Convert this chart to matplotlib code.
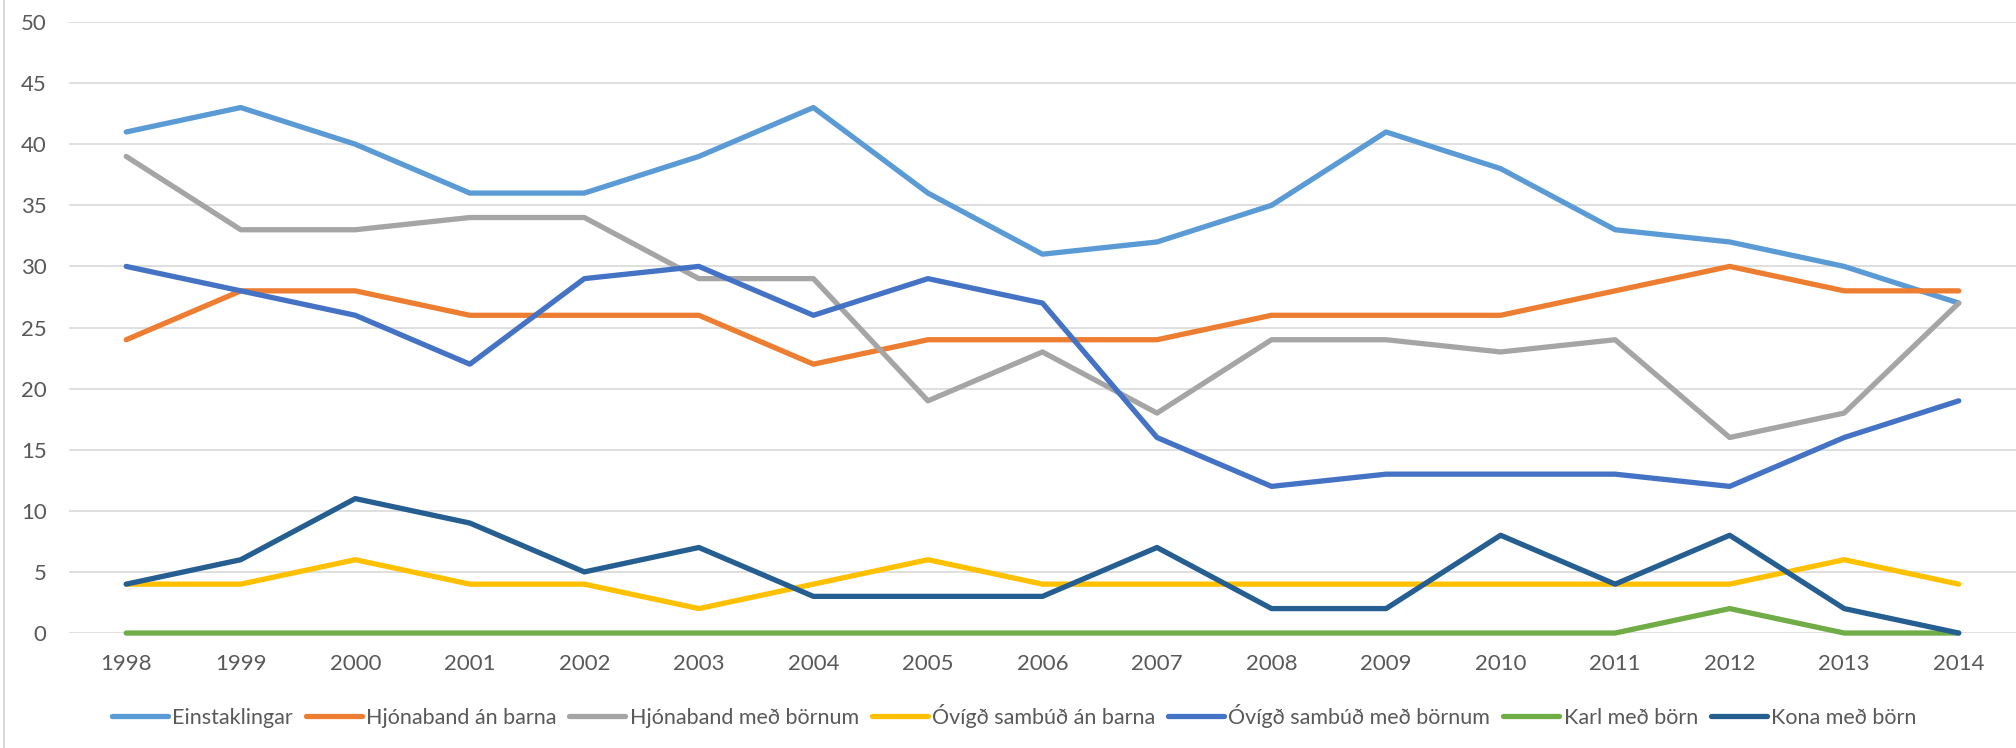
import matplotlib
matplotlib.use("Agg")
import matplotlib.pyplot as plt
from matplotlib.lines import Line2D

years = [str(y) for y in range(1998, 2015)]

einstaklingar = [41, 43, 40, 36, 36, 39, 43, 36, 31, 32, 35, 41, 38, 33, 32, 30, 27]
hjon_an_barna = [24, 28, 28, 26, 26, 26, 22, 24, 24, 24, 26, 26, 26, 28, 30, 28, 28]
hjon_med_bornum = [39, 33, 33, 34, 34, 29, 29, 19, 23, 18, 24, 24, 23, 24, 16, 18, 27]
ovigd_an_barna = [4, 4, 6, 4, 4, 2, 4, 6, 4, 4, 4, 4, 4, 4, 4, 6, 4]
ovigd_med_bornum = [30, 28, 26, 22, 29, 30, 26, 29, 27, 16, 12, 13, 13, 13, 12, 16, 19]
karl_med_born = [0, 0, 0, 0, 0, 0, 0, 0, 0, 0, 0, 0, 0, 0, 2, 0, 0]
kona_med_born = [4, 6, 11, 9, 5, 7, 3, 3, 3, 7, 2, 2, 8, 4, 8, 2, 0]

series = [
    ("Einstaklingar", einstaklingar, "#5B9BD5"),
    ("Hjónaband án barna", hjon_an_barna, "#ED7D31"),
    ("Hjónaband með börnum", hjon_med_bornum, "#A5A5A5"),
    ("Óvígð sambúð án barna", ovigd_an_barna, "#FFC000"),
    ("Óvígð sambúð með börnum", ovigd_med_bornum, "#4472C4"),
    ("Karl með börn", karl_med_born, "#70AD47"),
    ("Kona með börn", kona_med_born, "#255E91"),
]

plt.rcParams["font.family"] = ["Lato", "DejaVu Sans"]
text_color = "#595959"

fig = plt.figure(figsize=(20.16, 7.48), dpi=100)
ax = fig.add_axes([0.0342, 0.1537, 0.9658, 0.8169])

x = list(range(len(years)))
for label, values, color in series:
    ax.plot(x, values, color=color, lw=3.8, label=label, clip_on=False,
            solid_capstyle="round", solid_joinstyle="round")

ax.set_xlim(-0.5, len(years) - 0.5)
ax.set_ylim(0, 50)
ax.set_yticks(range(0, 51, 5))
ax.set_xticks(x)
ax.set_xticklabels(years)

ax.grid(axis="y", color="#d9d9d9", lw=1.2)
ax.set_axisbelow(True)
for s in ax.spines.values():
    s.set_visible(False)
ax.tick_params(axis="both", length=0, labelsize=16, colors=text_color)
ax.tick_params(axis="y", pad=16)
ax.tick_params(axis="x", pad=15)

# left chart border
fig.add_artist(Line2D([4 / 2016, 4 / 2016], [0, 1], color="#d9d9d9", lw=1.5))

fig.legend(loc="center", bbox_to_anchor=(0.503, 0.043), ncol=7, frameon=False,
           fontsize=15.5, handlelength=2.6, handletextpad=0.2, columnspacing=0.6,
           labelcolor=text_color)

fig.savefig("out.png", dpi=100)
